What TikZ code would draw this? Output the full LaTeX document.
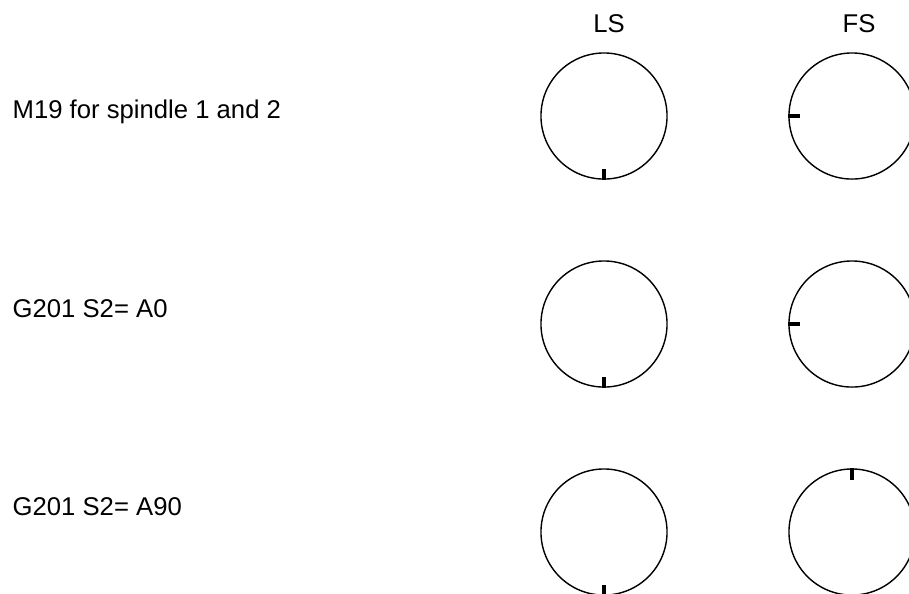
\documentclass[tikz,border=0pt]{standalone}
\usepackage{fontspec}
\setmainfont{Liberation Sans}
\usetikzlibrary{positioning}

\begin{document}
\begin{tikzpicture}[
  x=0.01cm, y=-0.01cm,
  dial/.style={circle, draw, line width=0.4pt, minimum size=1.26cm, inner sep=0pt},
  notch/.style={line width=0.9pt},
  lbl/.style={font=\fontsize{7.3}{8.8}\selectfont, inner sep=0pt}
]
\useasboundingbox (0,0) rectangle (909,593);
\clip (0,0) rectangle (909,593);

% column headings
\node[lbl, anchor=base] (lshead) at (609,32) {LS};
\node[lbl, anchor=base] (fshead) at (859,32) {FS};

% commands
\node[lbl, anchor=base west] (cmd1) at (12,118) {M19 for spindle 1 and 2};
\node[lbl, anchor=base west] (cmd2) at (12,317) {G201 S2= A0};
\node[lbl, anchor=base west] (cmd3) at (12,515) {G201 S2= A90};

% spindle dials
\node[dial] (ls1) at (604,116) {};
\node[dial] (fs1) at (852,116) {};
\node[dial] (ls2) at (604,324) {};
\node[dial] (fs2) at (852,324) {};
\node[dial] (ls3) at (604,532) {};
\node[dial] (fs3) at (852,532) {};

% orientation marks
\draw[notch] (ls1.south) -- ++(0,-11);
\draw[notch] (fs1.west) -- ++(12,0);
\draw[notch] (ls2.south) -- ++(0,-11);
\draw[notch] (fs2.west) -- ++(12,0);
\draw[notch] (ls3.south) -- ++(0,-11);
\draw[notch] (fs3.north) -- ++(0,12);
\end{tikzpicture}
\end{document}
